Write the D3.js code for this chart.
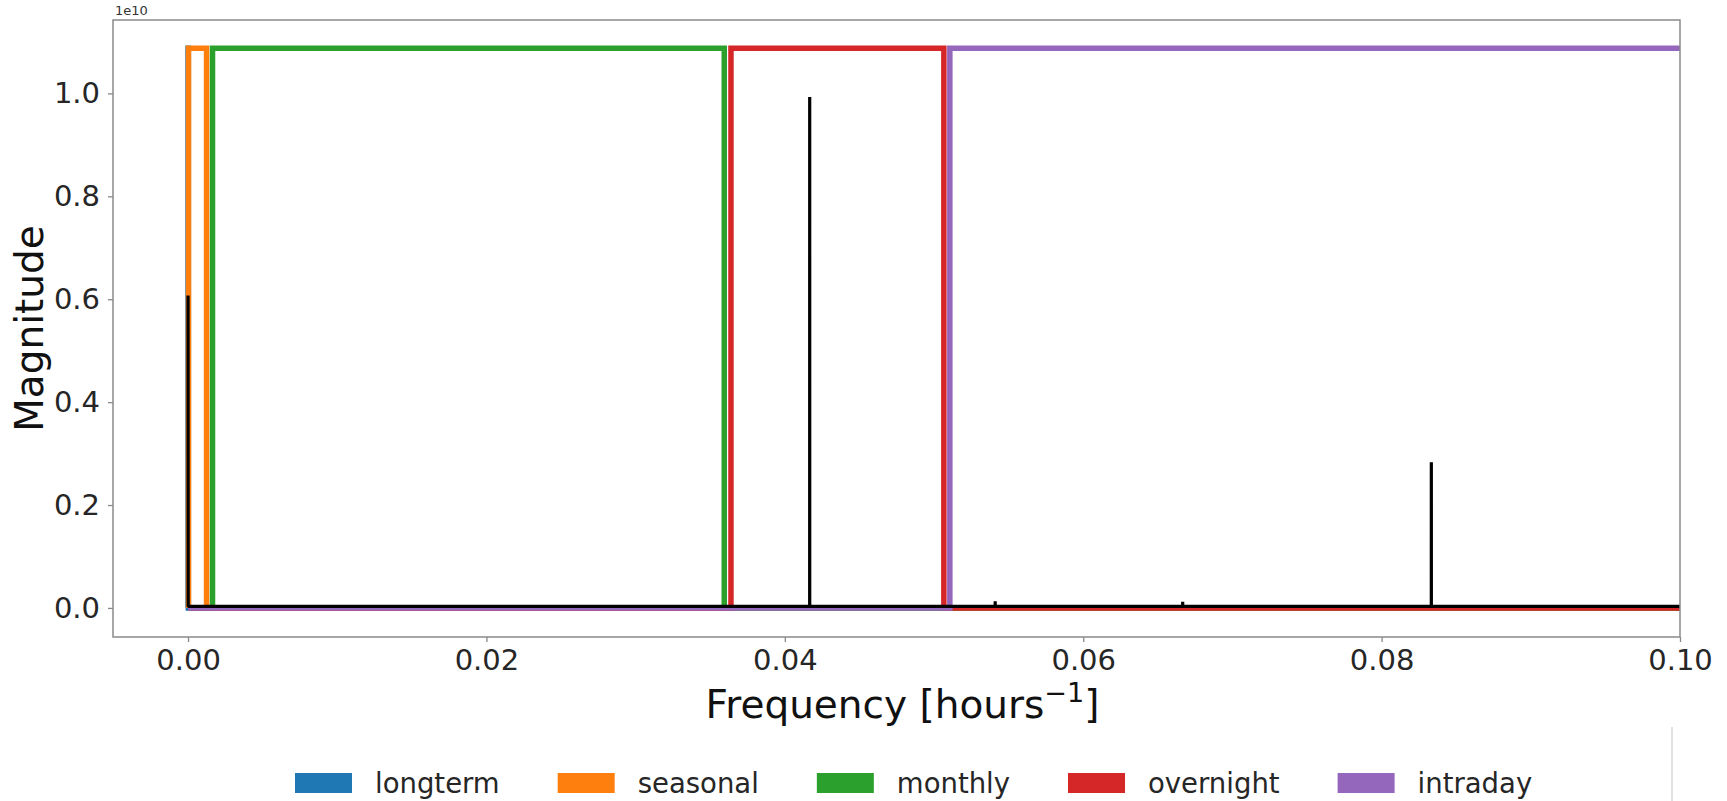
<!DOCTYPE html>
<html>
<head>
<meta charset="utf-8">
<script src="https://cdn.jsdelivr.net/npm/d3@7/dist/d3.min.js"></script>
<style>
  html, body { margin: 0; padding: 0; background: #fff; }
  svg { display: block; font-family: "DejaVu Sans", sans-serif; }
</style>
</head>
<body>
<svg id="chart" width="1727" height="801"></svg>
<script>
// ---------------- data (magnitudes in units of 1e10) ----------------
const filterNames  = ["longterm", "seasonal", "monthly", "overnight", "intraday"];
const filterColors = ["#1f77b4", "#ff7f0e", "#2ca02c", "#d62728", "#9467bd"];
const filterLow    = [0.00000, 0.00003, 0.00164, 0.03639, 0.05106];
const filterHigh   = [0.00002, 0.00124, 0.03594, 0.05066, 0.50000];
const filterLevel  = 1.088;

const fftFreq = [0, 0.00001, 0.041665, 0.041667, 0.041669, 0.054098, 0.054100, 0.054102,
                 0.066665, 0.066667, 0.066669, 0.083331, 0.083333, 0.083335, 0.50000];
const fftMag  = [0.607, 0.003, 0.003, 0.993, 0.003, 0.003, 0.013, 0.003,
                 0.003, 0.012, 0.003, 0.003, 0.283, 0.003, 0.003];

const xTicks = [0.00, 0.02, 0.04, 0.06, 0.08, 0.10];
const yTicks = [0.0, 0.2, 0.4, 0.6, 0.8, 1.0];

// ---------------- layout ----------------
const svg = d3.select("#chart");
const L = 113, R = 1680, T = 20, B = 637;
const x = d3.scaleLinear().domain([-0.00503, 0.1]).range([L, R]);
const y = d3.scaleLinear().domain([-0.0565, 1.1427]).range([B, T]);

svg.append("defs").append("clipPath").attr("id", "clip")
  .append("rect").attr("x", L).attr("y", T).attr("width", R - L).attr("height", B - T);

const plot = svg.append("g").attr("clip-path", "url(#clip)");
const line = d3.line().x(d => x(d[0])).y(d => y(d[1]));

// filter step curves
filterNames.forEach((name, i) => {
  const pts = [[0, 0], [filterLow[i], 0], [filterLow[i], filterLevel],
               [filterHigh[i], filterLevel], [filterHigh[i], 0], [0.5, 0]];
  plot.append("path")
    .attr("d", line(pts))
    .attr("fill", "none")
    .attr("stroke", filterColors[i])
    .attr("stroke-width", 5.5)
    .attr("stroke-linejoin", "miter");
});

// FFT magnitude
plot.append("path")
  .attr("d", line(fftFreq.map((f, i) => [f, fftMag[i]])))
  .attr("fill", "none")
  .attr("stroke", "#000")
  .attr("stroke-width", 3.2)
  .attr("stroke-linejoin", "bevel");

// axes
const xAxis = d3.axisBottom(x).tickValues(xTicks).tickFormat(d3.format(".2f")).tickSize(5).tickPadding(7);
const yAxis = d3.axisLeft(y).tickValues(yTicks).tickFormat(d3.format(".1f")).tickSize(5).tickPadding(8);

const gx = svg.append("g").attr("transform", `translate(0,${B})`).call(xAxis);
const gy = svg.append("g").attr("transform", `translate(${L},0)`).call(yAxis);
[gx, gy].forEach(g => {
  g.select(".domain").remove();
  g.selectAll(".tick line").attr("stroke", "#888").attr("stroke-width", 1.3);
  g.selectAll(".tick text").attr("fill", "#262626").attr("font-size", 29)
    .attr("font-family", "DejaVu Sans, sans-serif");
});

// frame
svg.append("rect").attr("x", L).attr("y", T).attr("width", R - L).attr("height", B - T)
  .attr("fill", "none").attr("stroke", "#8a8a8a").attr("stroke-width", 1.5);

// offset label
svg.append("text").attr("x", 115).attr("y", 15).attr("font-size", 13).attr("fill", "#333").text("1e10");

// axis labels
const xl = svg.append("text").attr("x", (L + R) / 2 + 6).attr("y", 718)
  .attr("text-anchor", "middle").attr("font-size", 39).attr("fill", "#111");
xl.append("tspan").text("Frequency [hours");
xl.append("tspan").attr("dy", -16).attr("font-size", 27).text("\u22121");
xl.append("tspan").attr("dy", 16).text("]");

svg.append("text").attr("transform", `translate(43,${(T + B) / 2}) rotate(-90)`)
  .attr("text-anchor", "middle").attr("font-size", 39).attr("fill", "#111").text("Magnitude");

// legend
const leg = svg.append("g");
let lx = 295;
filterNames.forEach((name, i) => {
  leg.append("rect").attr("x", lx).attr("y", 773).attr("width", 57).attr("height", 20)
    .attr("fill", filterColors[i]);
  const t = leg.append("text").attr("x", lx + 57 + 23).attr("y", 793)
    .attr("font-size", 27.5).attr("fill", "#262626").text(name);
  const w = t.node().getComputedTextLength();
  lx = lx + 57 + 23 + w + 58;
});

// thin stray frame edge at lower right
svg.append("line").attr("x1", 1672).attr("x2", 1672).attr("y1", 727).attr("y2", 801)
  .attr("stroke", "#cfcfcf").attr("stroke-width", 1.2);
</script>
</body>
</html>
